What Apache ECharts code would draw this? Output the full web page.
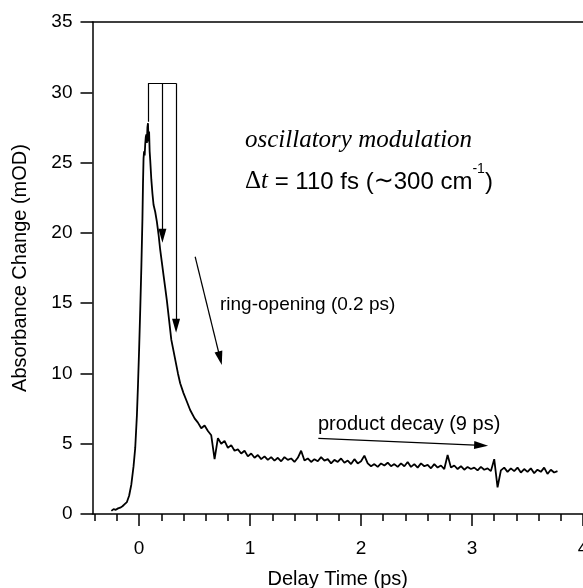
<!DOCTYPE html>
<html>
<head>
<meta charset="utf-8">
<script src="https://cdn.jsdelivr.net/npm/echarts@6/dist/echarts.min.js"></script>
<style>
  html, body { margin: 0; padding: 0; background: #fff; }
  #main { width: 583px; height: 588px; }
</style>
</head>
<body>
<div id="main"></div>
<script>
// transient absorption trace
var delay = [
  -0.25, -0.23, -0.21, -0.19, -0.17, -0.15, -0.13, -0.11, -0.09, -0.07,
  -0.05, -0.035, -0.02, -0.01, 0.0, 0.01, 0.02, 0.03, 0.035, 0.04,
  0.045, 0.05, 0.055, 0.06, 0.065, 0.07, 0.075, 0.08, 0.085, 0.09,
  0.095, 0.1, 0.11, 0.12, 0.13, 0.145, 0.16, 0.175, 0.19, 0.205,
  0.22, 0.235, 0.25, 0.27, 0.29, 0.31, 0.33, 0.35, 0.37, 0.40,
  0.43, 0.46,
  0.50, 0.53, 0.56, 0.59, 0.62, 0.65, 0.68, 0.71, 0.74, 0.77,
  0.80, 0.83, 0.86, 0.89, 0.92, 0.95, 0.98, 1.01, 1.04, 1.07,
  1.10, 1.13, 1.16, 1.19, 1.22, 1.25, 1.28, 1.31, 1.34, 1.37,
  1.40, 1.43, 1.46, 1.49, 1.52, 1.55, 1.58, 1.61, 1.64, 1.67,
  1.70, 1.73, 1.76, 1.79, 1.82, 1.85, 1.88, 1.91, 1.94, 1.97,
  2.00, 2.03, 2.06, 2.09, 2.12, 2.15, 2.18, 2.21, 2.24, 2.27,
  2.30, 2.33, 2.36, 2.39, 2.42, 2.45, 2.48, 2.51, 2.54, 2.57,
  2.60, 2.63, 2.66, 2.69, 2.72, 2.75, 2.78, 2.81, 2.84, 2.87,
  2.90, 2.93, 2.96, 2.99, 3.02, 3.05, 3.08, 3.11, 3.14, 3.17,
  3.20, 3.23, 3.26, 3.29, 3.32, 3.35, 3.38, 3.41, 3.44, 3.47,
  3.50, 3.53, 3.56, 3.59, 3.62, 3.65, 3.68, 3.71, 3.74, 3.77
];
var absorb = [
  0.22, 0.35, 0.3, 0.4, 0.45, 0.55, 0.7, 0.85, 1.3, 2.1,
  3.4, 4.7, 7.0, 9.2, 11.7, 14.5, 17.5, 21.0, 23.5, 25.3,
  25.8, 25.5, 26.3, 26.8, 27.0, 26.4, 27.5, 27.8, 26.5, 27.2,
  25.8, 25.2, 23.8, 22.8, 22.0, 21.5, 20.8, 19.9, 18.8, 17.9,
  17.0, 16.1, 15.2, 13.8, 12.4, 11.6, 10.8, 10.0, 9.3, 8.6,
  8.0, 7.4,
  6.8, 6.5, 6.1, 6.3, 5.9, 5.6, 3.9, 5.4, 5.0, 5.2,
  4.7, 4.9, 4.5, 4.6, 4.3, 4.5, 4.1, 4.3, 4.0, 4.2,
  3.9, 4.1, 3.85, 4.05, 3.8, 4.0, 3.75, 4.05, 3.85, 3.95,
  3.7, 4.0, 4.5, 3.8, 3.95, 3.7, 3.9, 3.75, 4.05, 3.8,
  3.9, 3.6, 3.85, 3.7, 3.95, 3.65, 3.8, 3.55, 3.9, 3.6,
  3.75, 4.15, 3.6, 3.4, 3.55, 3.35, 3.6, 3.45, 3.65, 3.4,
  3.55, 3.35, 3.6, 3.4, 3.7, 3.35, 3.55, 3.3, 3.6, 3.4,
  3.5, 3.25, 3.55, 3.3, 3.45, 3.2, 4.2, 3.3, 3.45, 3.2,
  3.4, 3.15, 3.35, 3.2, 3.3, 3.1, 3.35, 3.15, 3.25, 3.05,
  3.9, 1.9, 3.1, 3.3, 3.0, 3.25, 3.05, 3.3, 2.95, 3.2,
  3.0, 3.25, 2.9, 3.15, 3.0, 3.3, 2.85, 3.15, 2.95, 3.05
];

var xMajorTicks = [0, 1, 2, 3, 4];
var xMinorTicks = [-0.4, -0.2, 0.2, 0.4, 0.6, 0.8, 1.2, 1.4, 1.6, 1.8,
  2.2, 2.4, 2.6, 2.8, 3.2, 3.4, 3.6, 3.8];

// annotation arrows in data units: [start, end]
var arrowLines = [
  [[0.21, 30.65], [0.21, 19.8]],
  [[0.333, 30.65], [0.333, 13.4]],
  [[0.505, 18.3], [0.73, 11.08]],
  [[1.615, 5.38], [3.082, 4.88]]
];
var bracketLines = [
  [[0.081, 27.9], [0.081, 30.65]],
  [[0.081, 30.65], [0.333, 30.65]]
];

var sans = 'Liberation Sans, Arial, Helvetica, sans-serif';
var serif = 'Liberation Serif, Times New Roman, serif';

var trace = [];
for (var i = 0; i < delay.length; i++) {
  trace.push([delay[i], absorb[i]]);
}

var chart = echarts.init(document.getElementById('main'));

var option = {
  backgroundColor: '#fff',
  animation: false,
  grid: {
    left: 92.5,
    right: 0,
    top: 22,
    bottom: 74,
    outerBoundsMode: 'none'
  },
  xAxis: [
    {
      type: 'value',
      position: 'bottom',
      min: -0.42,
      max: 4,
      name: 'Delay Time (ps)',
      nameLocation: 'middle',
      nameGap: 55,
      nameTextStyle: { fontSize: 20, color: '#000', fontFamily: sans },
      axisLine: { show: true, onZero: false, lineStyle: { color: '#000', width: 1.5 } },
      axisTick: { show: true, length: 12, customValues: xMajorTicks,
        lineStyle: { color: '#000', width: 1.5 } },
      axisLabel: { customValues: xMajorTicks, fontSize: 19, color: '#000',
        fontFamily: sans, margin: 25 },
      splitLine: { show: false }
    },
    {
      type: 'value',
      position: 'bottom',
      min: -0.42,
      max: 4,
      axisLine: { show: false, onZero: false },
      axisTick: { show: true, length: 7, customValues: xMinorTicks,
        lineStyle: { color: '#000', width: 1.5 } },
      axisLabel: { show: false },
      splitLine: { show: false }
    },
    {
      type: 'value',
      position: 'top',
      min: -0.42,
      max: 4,
      axisLine: { show: true, onZero: false, lineStyle: { color: '#000', width: 1.5 } },
      axisTick: { show: false },
      axisLabel: { show: false },
      splitLine: { show: false }
    }
  ],
  yAxis: {
    type: 'value',
    min: 0,
    max: 35,
    interval: 5,
    name: 'Absorbance Change (mOD)',
    nameLocation: 'middle',
    nameGap: 62,
    nameTextStyle: { fontSize: 20, color: '#000', fontFamily: sans },
    axisLine: { show: true, onZero: false, lineStyle: { color: '#000', width: 1.5 } },
    axisTick: { show: true, length: 12, lineStyle: { color: '#000', width: 1.5 } },
    axisLabel: { fontSize: 19, color: '#000', fontFamily: sans, margin: 20 },
    splitLine: { show: false }
  },
  graphic: [
    {
      type: 'text',
      left: 245,
      top: 128,
      style: {
        text: 'oscillatory modulation',
        font: 'italic 25px ' + serif,
        fill: '#000'
      }
    },
    {
      type: 'text',
      left: 245,
      top: 162,
      style: {
        text: '{d|Δ}{t|t}{n| = 110 fs (}{w|∼}{n|300 cm}{s|-1}{n|)}',
        fill: '#000',
        rich: {
          d: { fontFamily: serif, fontSize: 25, lineHeight: 32, verticalAlign: 'bottom' },
          t: { fontFamily: serif, fontStyle: 'italic', fontSize: 25, lineHeight: 32, verticalAlign: 'bottom' },
          n: { fontFamily: sans, fontSize: 24, lineHeight: 32, verticalAlign: 'bottom' },
          w: { fontFamily: 'DejaVu Sans', fontSize: 24, lineHeight: 32, verticalAlign: 'bottom' },
          s: { fontFamily: sans, fontSize: 14, verticalAlign: 'top' }
        }
      }
    },
    {
      type: 'text',
      left: 220,
      top: 295,
      style: { text: 'ring-opening (0.2 ps)', font: '19px ' + sans, fill: '#000' }
    },
    {
      type: 'text',
      left: 318,
      top: 414,
      style: { text: 'product decay (9 ps)', font: '20px ' + sans, fill: '#000' }
    }
  ],
  series: [
    {
      type: 'line',
      xAxisIndex: 0,
      yAxisIndex: 0,
      data: trace,
      showSymbol: false,
      symbol: 'none',
      silent: true,
      lineStyle: { color: '#000', width: 1.8 }
    },
    {
      type: 'lines',
      coordinateSystem: 'cartesian2d',
      xAxisIndex: 0,
      yAxisIndex: 0,
      silent: true,
      symbol: ['none', 'triangle'],
      symbolSize: [8, [8, 14]],
      lineStyle: { color: '#000', width: 1.2, opacity: 1, curveness: 0 },
      data: arrowLines.map(function (c) { return { coords: c }; })
    },
    {
      type: 'lines',
      coordinateSystem: 'cartesian2d',
      xAxisIndex: 0,
      yAxisIndex: 0,
      silent: true,
      symbol: ['none', 'none'],
      lineStyle: { color: '#000', width: 1.2, opacity: 1, curveness: 0 },
      data: bracketLines.map(function (c) { return { coords: c }; })
    }
  ]
};

chart.setOption(option);
</script>
</body>
</html>
